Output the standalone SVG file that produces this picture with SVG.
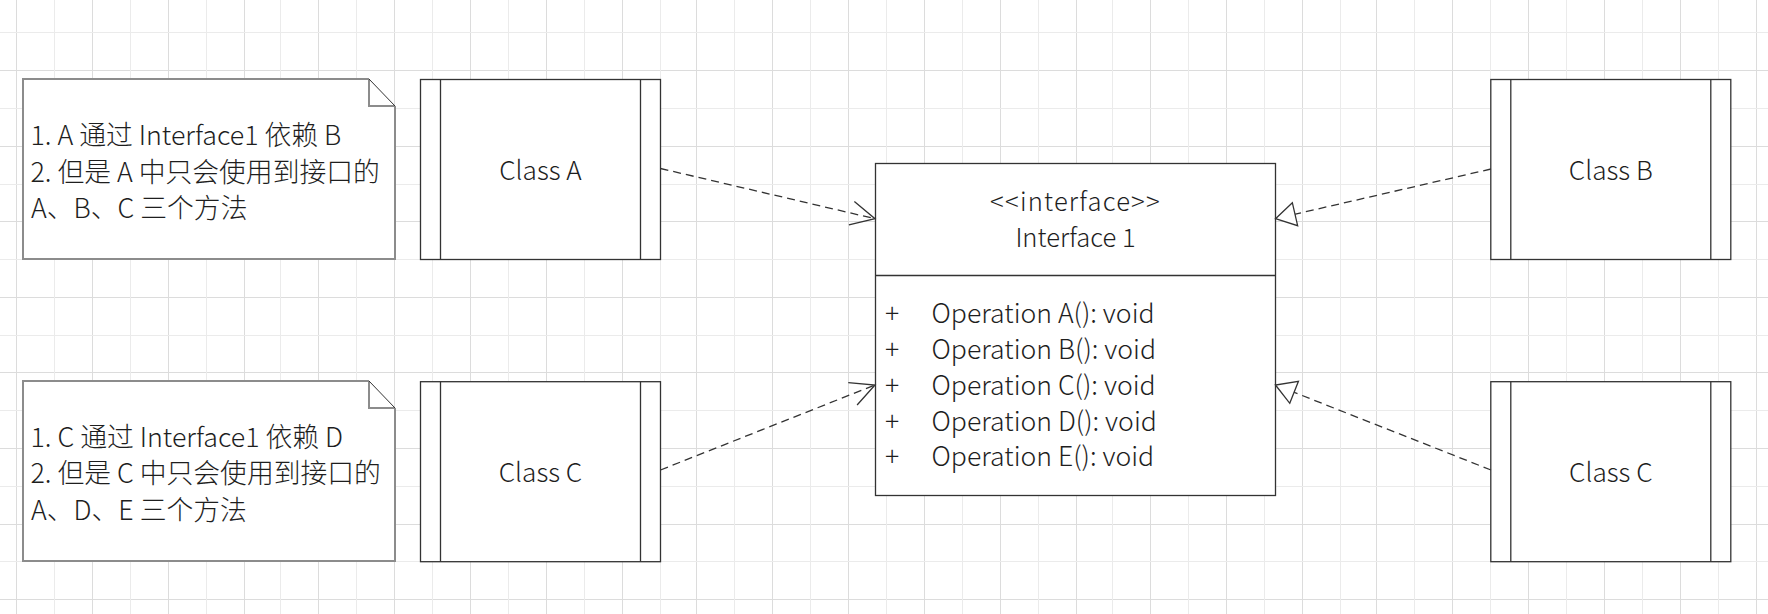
<svg xmlns="http://www.w3.org/2000/svg" width="1768" height="614" viewBox="0 0 1768 614">
<style>
.gd{stroke:#dcdcdc;stroke-width:1;fill:none}
.gl{stroke:#ebebeb;stroke-width:1;fill:none}
.cls{fill:#fff;stroke:#333;stroke-width:1.3}
.bar{stroke:#333;stroke-width:1.3;fill:none}
.nbody{fill:#fff;stroke:none}
.nedge{fill:none;stroke:#8c8c8c;stroke-width:2}
.ndiag{fill:none;stroke:#333;stroke-width:1}
.t{font-family:"Noto Sans CJK SC","Open Sans",sans-serif;font-size:27px;font-weight:300;fill:#1e1e1e}
.n{font-size:26.8px}
.k{font-size:26.2px}
.o{font-size:26.6px}
.i{font-size:25.6px}
.c{text-anchor:middle}
.dep{fill:none;stroke:#333;stroke-width:1.3;stroke-dasharray:8 5}
</style>
<defs>
<marker id="open" markerUnits="userSpaceOnUse" viewBox="-30 -15 32 30" markerWidth="32" markerHeight="30" refX="0" refY="0" orient="auto" overflow="visible">
<path d="M-24,-12 L0,0 L-24,12" fill="none" stroke="#333" stroke-width="1.3"/>
</marker>
<marker id="tri" markerUnits="userSpaceOnUse" viewBox="-24 -15 26 30" markerWidth="26" markerHeight="30" refX="0" refY="0" orient="auto" overflow="visible">
<path d="M0,0 L-20,-11.8 L-20,11.8 Z" fill="#fff" stroke="#333" stroke-width="1.3"/>
</marker>
</defs>
<rect width="1768" height="614" fill="#fff"/>
<g id="grid">
<path class="gd" d="M16.5,0V614M92.5,0V614M168.5,0V614M244.5,0V614M318.5,0V614M394.5,0V614M470.5,0V614M546.5,0V614M622.5,0V614M696.5,0V614M772.5,0V614M848.5,0V614M924.5,0V614M1000.5,0V614M1076.5,0V614M1150.5,0V614M1226.5,0V614M1302.5,0V614M1376.5,0V614M1452.5,0V614M1528.5,0V614M1604.5,0V614M1680.5,0V614M1756.5,0V614M0,70.5H1768M0,146.5H1768M0,221.5H1768M0,297.5H1768M0,372.5H1768M0,448.5H1768M0,524.5H1768M0,599.5H1768"/>
<path class="gl" d="M54.5,0V614M130.5,0V614M206.5,0V614M280.5,0V614M356.5,0V614M432.5,0V614M508.5,0V614M584.5,0V614M660.5,0V614M734.5,0V614M810.5,0V614M886.5,0V614M962.5,0V614M1038.5,0V614M1112.5,0V614M1188.5,0V614M1264.5,0V614M1340.5,0V614M1414.5,0V614M1490.5,0V614M1566.5,0V614M1642.5,0V614M1718.5,0V614M0,32.5H1768M0,108.5H1768M0,184.5H1768M0,259.5H1768M0,335.5H1768M0,410.5H1768M0,486.5H1768M0,561.5H1768"/>
</g>
<g id="note1">
<path class="nbody" d="M23,79H369L395,106V259H23Z"/>
<path class="nedge" d="M369,79H23V259H395V106"/>
<path class="nedge" d="M369,79V106H395"/>
<path class="ndiag" d="M369,79L395,106"/>
<text class="t n" x="30.5" y="145">1. A 通过 Interface1 依赖 B</text>
<text class="t n" x="30.5" y="181.5">2. 但是 A 中只会使用到接口的</text>
<text class="t n" x="31" y="218">A、B、C 三个方法</text>
</g>
<g id="note2">
<path class="nbody" d="M23,381H369L395,408V561H23Z"/>
<path class="nedge" d="M369,381H23V561H395V408"/>
<path class="nedge" d="M369,381V408H395"/>
<path class="ndiag" d="M369,381L395,408"/>
<text class="t n" x="30.5" y="446.5">1. C 通过 Interface1 依赖 D</text>
<text class="t n" x="30.5" y="483">2. 但是 C 中只会使用到接口的</text>
<text class="t n" x="31" y="519.5">A、D、E 三个方法</text>
</g>
<g id="classA">
<rect class="cls" x="420.5" y="79.5" width="240" height="180"/>
<path class="bar" d="M440.5,79.5V259.5M640.5,79.5V259.5"/>
<text class="t k c" x="540.5" y="180">Class A</text>
</g>
<g id="classC1">
<rect class="cls" x="420.5" y="381.7" width="240" height="180"/>
<path class="bar" d="M440.5,381.7V561.7M640.5,381.7V561.7"/>
<text class="t k c" x="540.5" y="482">Class C</text>
</g>
<g id="classB">
<rect class="cls" x="1490.8" y="79.5" width="240" height="180"/>
<path class="bar" d="M1510.8,79.5V259.5M1710.8,79.5V259.5"/>
<text class="t k c" x="1610.8" y="180">Class B</text>
</g>
<g id="classC2">
<rect class="cls" x="1490.8" y="381.7" width="240" height="180"/>
<path class="bar" d="M1510.8,381.7V561.7M1710.8,381.7V561.7"/>
<text class="t k c" x="1610.8" y="482">Class C</text>
</g>
<g id="interface1">
<rect class="cls" x="875.5" y="163.5" width="400" height="332"/>
<path class="bar" d="M875.5,275.5H1275.5"/>
<text class="t i c" x="1075.5" y="211" letter-spacing="1.2">&lt;&lt;interface&gt;&gt;</text>
<text class="t i c" x="1075.5" y="247">Interface 1</text>
<text class="t o" x="885" y="322.5">+</text>
<text class="t o" x="885" y="358.5">+</text>
<text class="t o" x="885" y="394.5">+</text>
<text class="t o" x="885" y="430.5">+</text>
<text class="t o" x="885" y="466">+</text>
<text class="t o" x="931.5" y="322.5">Operation A(): void</text>
<text class="t o" x="931.5" y="358.5">Operation B(): void</text>
<text class="t o" x="931.5" y="394.5">Operation C(): void</text>
<text class="t o" x="931.5" y="430.5">Operation D(): void</text>
<text class="t o" x="931.5" y="466">Operation E(): void</text>
</g>
<g id="connectors">
<path class="dep" d="M660.5,168.5L875,218.7" marker-end="url(#open)"/>
<path class="dep" d="M660.5,470L875,385" marker-end="url(#open)"/>
<path class="dep" d="M1491,169L1275.5,218.7" marker-end="url(#tri)"/>
<path class="dep" d="M1491,470L1275.5,385" marker-end="url(#tri)"/>
</g>
</svg>
